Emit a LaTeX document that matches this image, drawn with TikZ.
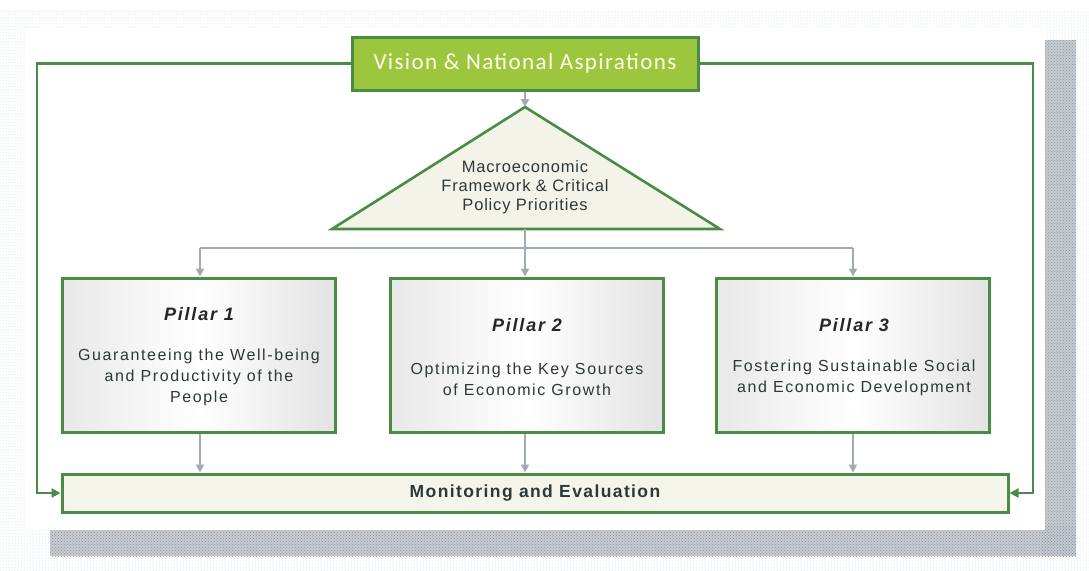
\documentclass[tikz,border=0pt]{standalone}
\usepackage{fontspec}
\setmainfont{Liberation Sans}
\newfontfamily\visfont[LetterSpace=6]{Carlito}
\newfontfamily\bodyfont[LetterSpace=10]{Liberation Sans}
\newfontfamily\triafont[LetterSpace=5]{Liberation Sans}
\newfontfamily\monfont[LetterSpace=8]{Liberation Sans}
\usetikzlibrary{arrows.meta,patterns}
\definecolor{gborder}{HTML}{4A8C45}
\definecolor{vfill}{HTML}{9DC63F}
\definecolor{tfill}{HTML}{F3F3E9}
\definecolor{mfill}{HTML}{F4F4EA}
\definecolor{agray}{HTML}{A2AAB3}
\definecolor{txt}{HTML}{2E3838}
\definecolor{shad}{HTML}{7F8C96}
\definecolor{dotc}{HTML}{8FB3C8}
\tikzset{
  visbox/.style={draw=gborder, line width=3pt, fill=vfill, minimum width=346pt, minimum height=53pt, inner sep=0pt,
    text=white!92!yellow, font=\visfont\fontsize{23}{27}\selectfont},
  pillbox/.style={draw=gborder, line width=3pt, minimum width=273pt, minimum height=154pt, inner sep=0pt,
    left color=gray!18, right color=gray!22, middle color=white},
  montbox/.style={draw=gborder, line width=3pt, fill=mfill, minimum width=946pt, minimum height=38pt, inner sep=0pt},
  ptitle/.style={font=\bodyfont\bfseries\itshape\fontsize{18}{20}\selectfont, text=black!85},
  pbody/.style={font=\bodyfont\fontsize{16}{21}\selectfont, text=txt, align=center},
  garrow/.style={draw=agray, line width=2pt, -{Triangle[length=8pt,width=8pt]}},
  gline/.style={draw=agray, line width=2pt},
  loop/.style={draw=gborder, line width=2.2pt, -{Triangle[length=9pt,width=9pt]}}
}
\begin{document}
\begin{tikzpicture}[x=1pt,y=-1pt]
\useasboundingbox (0,0) rectangle (1089,570);
% background dots
\fill[pattern=dots, pattern color=dotc!60] (0,8) rectangle (1089,570);
\fill[white] (0,0) rectangle (1089,10);
% shadow
\fill[shad!45] (1042,40) rectangle (1076,556);
\fill[shad!45] (50,526) rectangle (1076,556);
\fill[pattern=crosshatch dots, pattern color=shad!90] (1042,40) rectangle (1076,556);
\fill[pattern=crosshatch dots, pattern color=shad!90] (50,526) rectangle (1076,556);
% white panel
\fill[white] (25,29) rectangle (1045,530);

% Vision box
\node[visbox] (vision) at (525,63.5) {Vision \& National Aspirations};

% triangle
\coordinate (apex) at (525,107);
\coordinate (bl) at (332,229);
\coordinate (br) at (720,229);
\coordinate (bc) at (525,229);
\fill[tfill] (apex) -- (br) -- (bl) -- cycle;
\draw[gborder, line width=2.6pt, line join=miter] (apex) -- (br) -- (bl) -- cycle;
\node[font=\triafont\fontsize{16.5}{19}\selectfont, text=txt, align=center] (macro) at (525,187)
  {Macroeconomic\\Framework \& Critical\\Policy Priorities};

% pillars
\node[pillbox] (p1) at (198.5,355) {};
\node[pillbox] (p2) at (526.5,355) {};
\node[pillbox] (p3) at (853,355) {};
\node[ptitle] (t1) at (199,314) {Pillar 1};
\node[ptitle] (t2) at (527,325) {Pillar 2};
\node[ptitle] (t3) at (854,325) {Pillar 3};
\node[pbody] (b1) at (199,377) {Guaranteeing the Well-being\\and Productivity of the\\People};
\node[pbody] (b2) at (527,379) {Optimizing the Key Sources\\of Economic Growth};
\node[pbody] (b3) at (854,378) {Fostering Sustainable Social\\and Economic Development};

% monitoring
\node[montbox] (mon) at (535,493) {};
\node[font=\monfont\bfseries\fontsize{17.5}{20}\selectfont, text=txt] (montext) at (535,493) {Monitoring and Evaluation};

% arrows
\draw[garrow] (vision.south) -- (apex);
\coordinate (hl) at (200,248);
\coordinate (hr) at (853,248);
\coordinate (hm) at (525,248);
\draw[gline] (bc) -- (hm);
\draw[gline] (hl) -- (hr);
\draw[garrow] (hl) -- (p1.north -| hl);
\draw[garrow] (hm) -- (p2.north -| hm);
\draw[garrow] (hr) -- (p3.north -| hr);
\draw[garrow] (p1.south -| hl) -- (mon.north -| hl);
\draw[garrow] (p2.south -| hm) -- (mon.north -| hm);
\draw[garrow] (p3.south -| hr) -- (mon.north -| hr);

% loops
\draw[loop] (vision.west) -- (37,63.5) -- (37,493) -- (mon.west);
\draw[loop] (vision.east) -- (1033,63.5) -- (1033,493) -- (mon.east);
\end{tikzpicture}
\end{document}
